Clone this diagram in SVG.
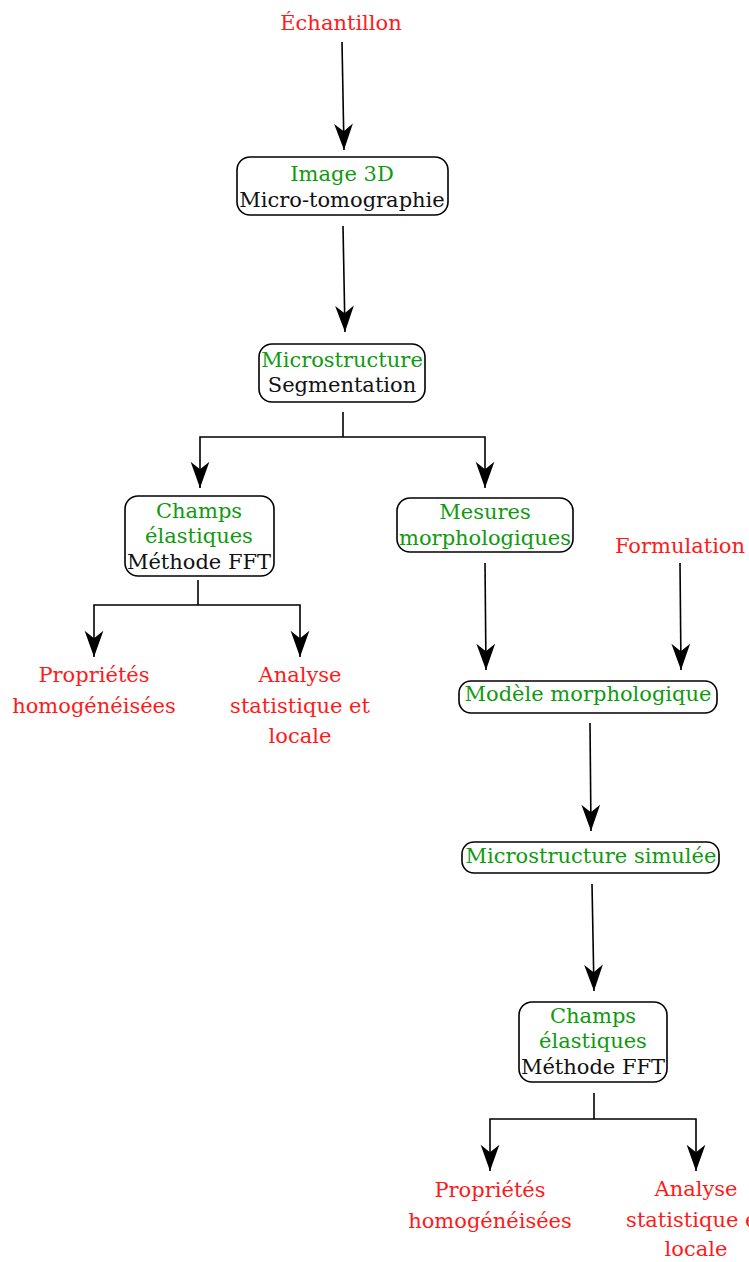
<svg xmlns="http://www.w3.org/2000/svg" width="749" height="1262" viewBox="0 0 749 1262">
<style>
text{font-family:"DejaVu Serif","Liberation Serif",serif;font-size:21px;text-anchor:middle}
.g{fill:#0f9a0f}.k{fill:#111}.r{fill:#ff1a1a}
.box{fill:#fff;stroke:#000;stroke-width:1.6}
.c{fill:none;stroke:#000;stroke-width:1.6}
</style>
<defs>
<marker id="ah" markerUnits="userSpaceOnUse" markerWidth="30" markerHeight="30" viewBox="-22 -10 24 20" refX="0" refY="0" orient="auto">
<path d="M0,0 L-21,-7.5 L-15,0 L-21,7.5 Z" fill="#000"/>
</marker>
</defs>
<g id="connectors">
<path class="c" d="M342,42 L344,150" marker-end="url(#ah)"/>
<path class="c" d="M343,226 L345,332" marker-end="url(#ah)"/>
<path class="c" d="M343,412 L343,437"/>
<path class="c" d="M343,437 L200,437 L200,488" marker-end="url(#ah)"/>
<path class="c" d="M343,437 L485,437 L485,488" marker-end="url(#ah)"/>
<path class="c" d="M198,580 L198,605"/>
<path class="c" d="M198,605 L94,605 L94,657" marker-end="url(#ah)"/>
<path class="c" d="M198,605 L300,605 L300,657" marker-end="url(#ah)"/>
<path class="c" d="M485,563 L486,670" marker-end="url(#ah)"/>
<path class="c" d="M680,563 L681,670" marker-end="url(#ah)"/>
<path class="c" d="M590,723 L591,831" marker-end="url(#ah)"/>
<path class="c" d="M592,884 L594,991" marker-end="url(#ah)"/>
<path class="c" d="M594,1093 L594,1119"/>
<path class="c" d="M594,1119 L490,1119 L490,1171" marker-end="url(#ah)"/>
<path class="c" d="M594,1119 L696,1119 L696,1171" marker-end="url(#ah)"/>
</g>
<g id="echantillon"><text class="r" x="341" y="30">Échantillon</text></g>
<g id="image3d">
<rect class="box" x="237" y="157" width="211" height="58" rx="13"/>
<text class="g" x="342" y="181">Image 3D</text>
<text class="k" x="342" y="207">Micro-tomographie</text>
</g>
<g id="microstructure">
<rect class="box" x="259" y="344" width="166" height="58" rx="13"/>
<text class="g" x="342" y="367">Microstructure</text>
<text class="k" x="342" y="392">Segmentation</text>
</g>
<g id="champs1">
<rect class="box" x="125" y="496" width="149" height="80" rx="13"/>
<text class="g" x="199" y="518">Champs</text>
<text class="g" x="199" y="543">élastiques</text>
<text class="k" x="199" y="569">Méthode FFT</text>
</g>
<g id="mesures">
<rect class="box" x="397" y="498" width="176" height="54" rx="13"/>
<text class="g" x="485" y="519">Mesures</text>
<text class="g" x="485" y="545">morphologiques</text>
</g>
<g id="formulation"><text class="r" x="680" y="553">Formulation</text></g>
<g id="proprietes1">
<text class="r" x="94" y="682">Propriétés</text>
<text class="r" x="94" y="713">homogénéisées</text>
</g>
<g id="analyse1">
<text class="r" x="300" y="682">Analyse</text>
<text class="r" x="300" y="713">statistique et</text>
<text class="r" x="300" y="743">locale</text>
</g>
<g id="modele">
<rect class="box" x="459" y="681" width="258" height="32" rx="12"/>
<text class="g" x="588" y="701">Modèle morphologique</text>
</g>
<g id="simulee">
<rect class="box" x="462" y="842" width="257" height="31" rx="12"/>
<text class="g" x="591" y="863">Microstructure simulée</text>
</g>
<g id="champs2">
<rect class="box" x="519" y="1002" width="148" height="80" rx="13"/>
<text class="g" x="593" y="1023">Champs</text>
<text class="g" x="593" y="1048">élastiques</text>
<text class="k" x="593" y="1074">Méthode FFT</text>
</g>
<g id="proprietes2">
<text class="r" x="490" y="1197">Propriétés</text>
<text class="r" x="490" y="1228">homogénéisées</text>
</g>
<g id="analyse2">
<text class="r" x="696" y="1196">Analyse</text>
<text class="r" x="696" y="1227">statistique et</text>
<text class="r" x="696" y="1256">locale</text>
</g>
</svg>
